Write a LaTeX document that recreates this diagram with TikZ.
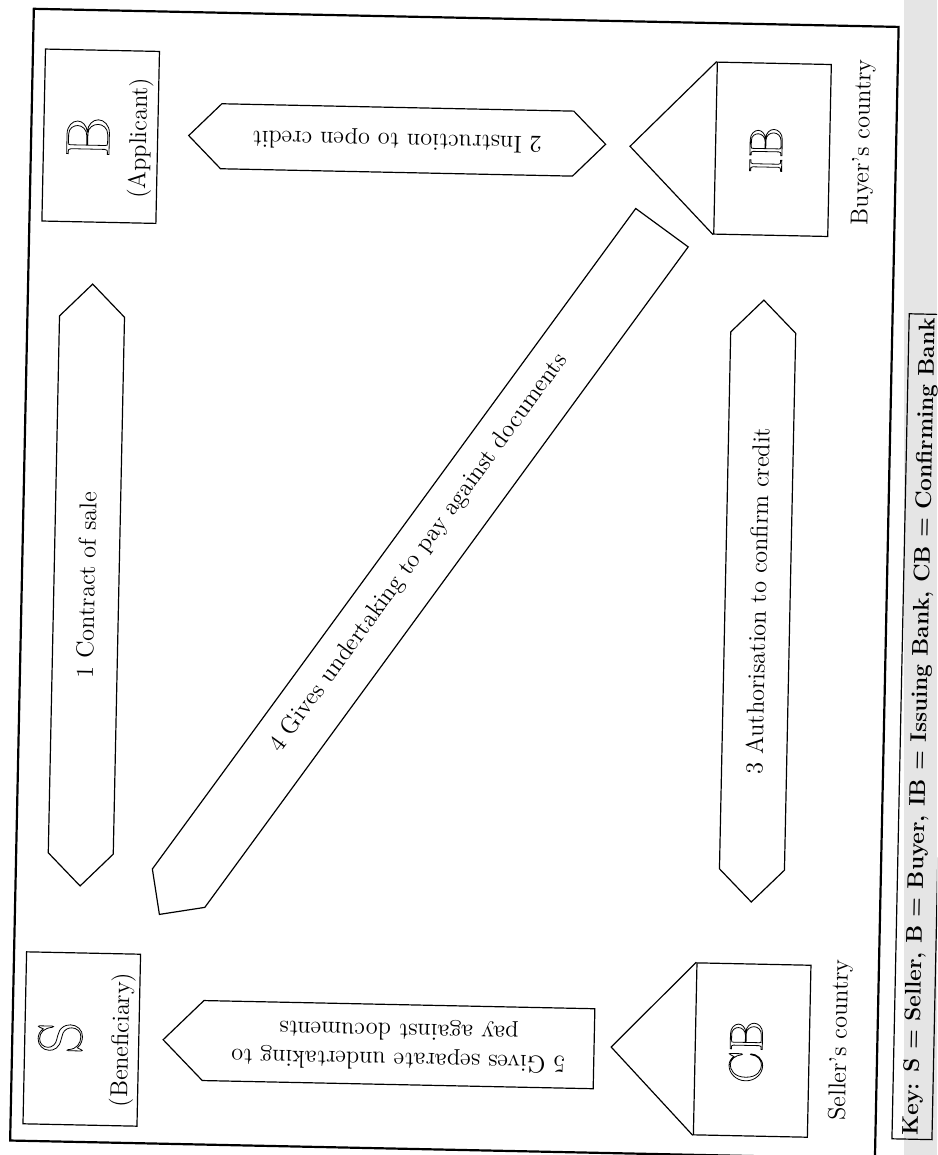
\documentclass[tikz,border=0pt]{standalone}
\usetikzlibrary{shapes.arrows}
\newcommand\hollow[1]{\special{pdf:literal direct 1 Tr}#1\special{pdf:literal direct 0 Tr}}
\tikzset{
  twoway/.style={double arrow, draw, line width=0.6pt, double arrow head extend=0pt,
    double arrow tip angle=90, minimum width=32.5pt, inner sep=1pt},
  oneway/.style={single arrow, draw, line width=0.6pt, single arrow head extend=0pt,
    single arrow tip angle=90, inner sep=1pt},
  party/.style={draw, line width=0.6pt, minimum width=86pt, minimum height=57pt, rotate=90},
  bigletter/.style={rotate=90, font=\fontsize{31}{31}\selectfont},
  bankletter/.style={rotate=90, font=\fontsize{23.5}{24}\selectfont}
}
\begin{document}
\begin{tikzpicture}[x=0.5pt, y=-0.5pt, every node/.style={font=\fontsize{12.2}{14.5}\selectfont}]
  \useasboundingbox (0,0) rectangle (937,1155);
  \clip (0,0) rectangle (937,1155);
  \fill[black!10] (904,0) rectangle (937,1155);
  \begin{scope}[rotate around={-1.2:(468,578)}, transform shape]
    \draw[line width=1.1pt] (22,18) rectangle (887,1150);

    \node[party] (b) at (91.5,144) {};
    \node[bigletter] (bname) at (79,145) {\hollow{B}};
    \node[rotate=90] (bnote) at (131,145) {(Applicant)};
    \node[party] (s) at (91.5,1047) {};
    \node[bigletter] (sname) at (70,1046) {\hollow{S}};
    \node[rotate=90] (snote) at (132,1047) {(Beneficiary)};

    \node[party] (ib) at (763.5,143) {};
    \coordinate (ibtip) at (621,143);
    \draw[line width=0.6pt] (ib.north east) -- (ibtip) -- (ib.north west);
    \node[bankletter] (ibname) at (757,144) {\hollow{IB}};
    \node[rotate=90] (buyer) at (854,134) {Buyer's country};
    \node[party] (cb) at (762,1044) {};
    \coordinate (cbtip) at (621,1044);
    \draw[line width=0.6pt] (cb.north east) -- (cbtip) -- (cb.north west);
    \node[bankletter] (cbname) at (756,1046) {\hollow{CB}};
    \node[rotate=90] (seller) at (850,1032) {Seller's country};

    \node[twoway, rotate=90, minimum height=301pt] (contract) at (86.6,593) {1 Contract of sale};
    \node[twoway, rotate=180, minimum height=208.5pt] (instruct) at (388,141.5) {2 Instruction to open credit};
    \node[twoway, rotate=90, minimum height=301pt] (authorise) at (758,595) {3 Authorisation to confirm credit};
    \node[oneway, rotate=235, anchor=tip, minimum width=32.5pt, minimum height=425.5pt] (undertake) at (166,921.5) {};
    \node[rotate=55] (undertext) at (418.5,554) {4 Gives undertaking to pay against documents};
    \node[oneway, rotate=180, anchor=tip, minimum width=40pt, minimum height=215.5pt, align=center] (separate) at (172,1046) {5 Gives separate undertaking to\\pay against documents};

    \node[draw, line width=0.6pt, rotate=90, anchor=north east, minimum height=20pt, inner xsep=2pt,
      font=\bfseries\fontsize{11.3}{13}\selectfont] (key) at (903,304) {Key: S = Seller, B = Buyer, IB = Issuing Bank, CB = Confirming Bank};
  \end{scope}
\end{tikzpicture}
\end{document}
